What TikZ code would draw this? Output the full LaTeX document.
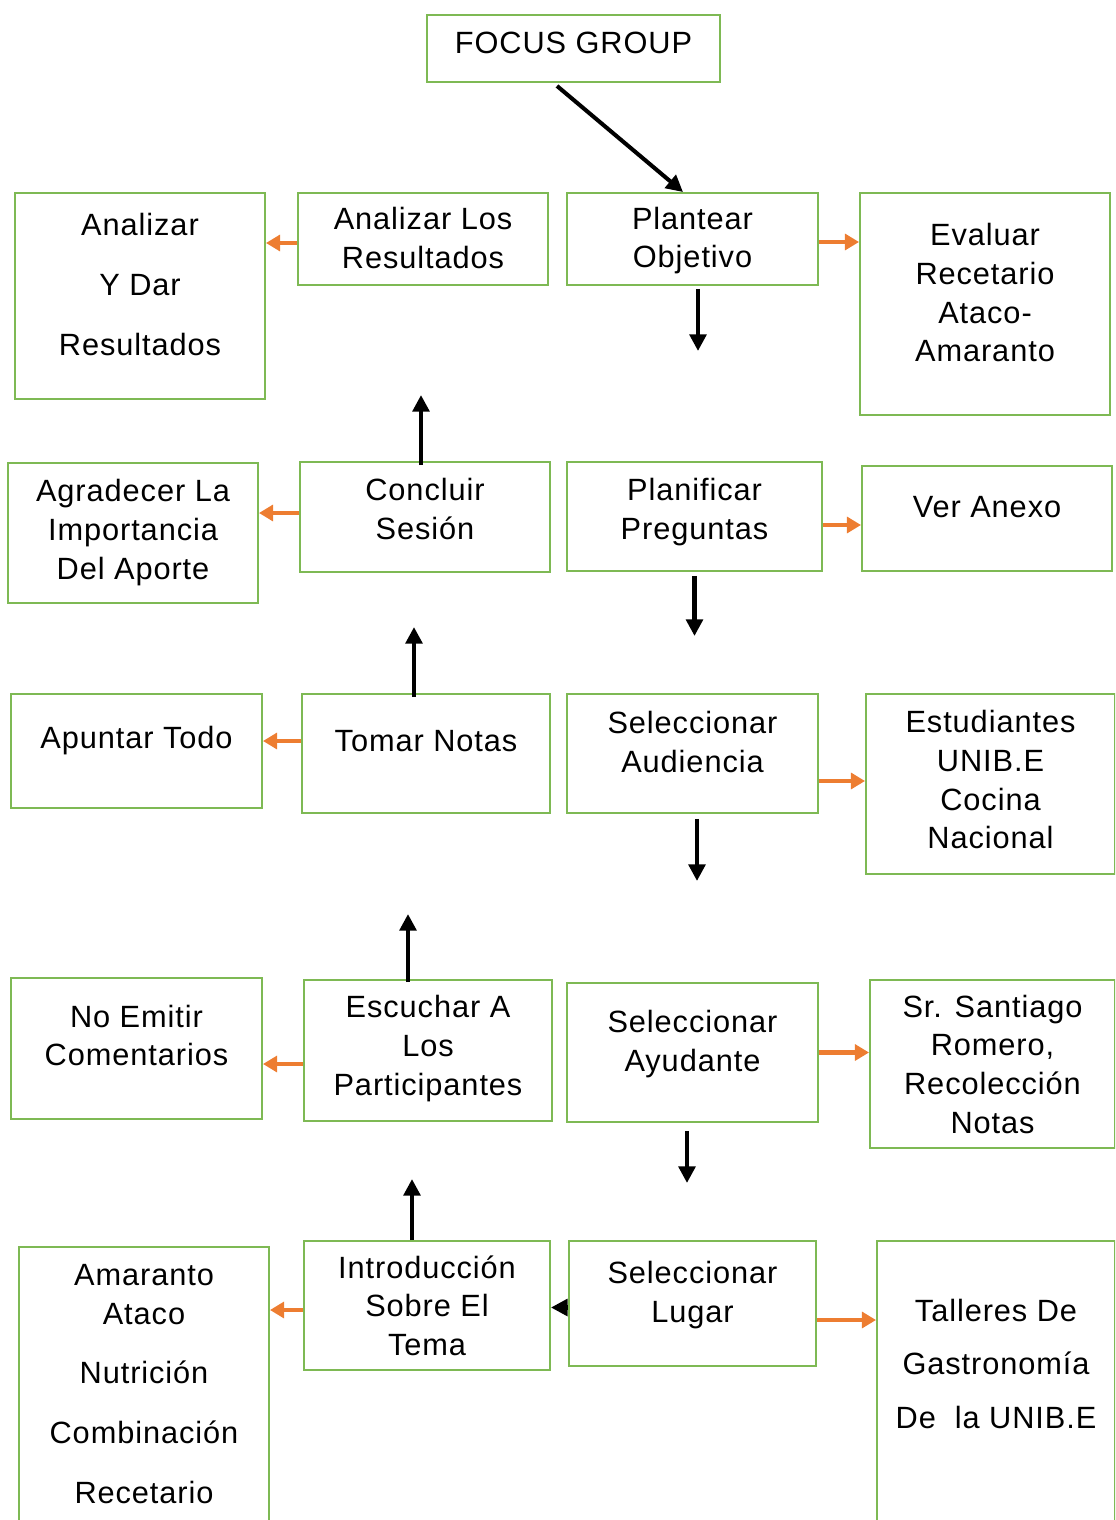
\documentclass[tikz,border=0pt]{standalone}
\usepackage{fontspec}
\setmainfont[LetterSpace=3]{Liberation Sans}
\usepackage{xcolor}
\usetikzlibrary{arrows.meta,calc}
\definecolor{boxgreen}{RGB}{126,185,84}
\definecolor{arrorange}{RGB}{237,125,49}

\begin{document}
\begin{tikzpicture}[
    box/.style={draw=boxgreen, line width=1.1pt, align=center, inner sep=0pt,
        font=\fontsize{17.5}{22}\selectfont, text depth=13pt},
    blk/.style={line width=2.3pt, -{Triangle[length=9.5pt,width=9.5pt]}},
    org/.style={arrorange, line width=2.3pt, -{Triangle[length=8pt,width=9pt]}}
]
    \useasboundingbox (0,0) rectangle (22.3,-30.4);
    \clip (0,0) rectangle (22.3,-30.4);

    % Start
    \node[box, minimum width=5.86cm, minimum height=1.34cm, text depth=6pt] (focus) at (11.47,-0.97) {FOCUS GROUP};

    % Row 1
    \node[box, minimum width=5cm, minimum height=4.12cm] (anaDar) at (2.8,-5.92) {Analizar\\[12pt] Y Dar\\[12pt] Resultados};
    \node[box, minimum width=5cm, minimum height=1.84cm, text depth=1pt] (anaLos) at (8.46,-4.78) {Analizar Los\\Resultados};
    \node[box, minimum width=5.02cm, minimum height=1.84cm, text depth=2pt] (plantear) at (13.85,-4.78) {Plantear\\Objetivo};
    \node[box, minimum width=5cm, minimum height=4.44cm] (evaluar) at (19.7,-6.08) {Evaluar\\Recetario\\Ataco-\\Amaranto};

    % Row 2
    \node[box, minimum width=5cm, minimum height=2.8cm, text depth=4pt] (agradecer) at (2.66,-10.66) {Agradecer La\\Importancia\\Del Aporte};
    \node[box, minimum width=5cm, minimum height=2.2cm, text depth=9pt] (concluir) at (8.5,-10.34) {Concluir\\Sesión};
    \node[box, minimum width=5.1cm, minimum height=2.18cm, text depth=9pt] (planificar) at (13.89,-10.33) {Planificar\\Preguntas};
    \node[box, minimum width=5cm, minimum height=2.1cm] (verAnexo) at (19.74,-10.37) {Ver Anexo};

    % Row 3
    \node[box, minimum width=5.02cm, minimum height=2.28cm, text depth=15pt] (apuntar) at (2.73,-15.02) {Apuntar Todo};
    \node[box, minimum width=4.96cm, minimum height=2.38cm, text depth=14pt] (tomar) at (8.52,-15.07) {Tomar Notas};
    \node[box, minimum width=5.02cm, minimum height=2.38cm] (audiencia) at (13.85,-15.07) {Seleccionar\\Audiencia};
    \node[box, minimum width=4.98cm, minimum height=3.6cm, text depth=5pt] (estudiantes) at (19.81,-15.68) {Estudiantes\\UNIB.E\\Cocina\\Nacional};

    % Row 4
    \node[box, minimum width=5.02cm, minimum height=2.82cm, text depth=15pt] (noEmitir) at (2.73,-20.97) {No Emitir\\Comentarios};
    \node[box, minimum width=4.96cm, minimum height=2.82cm, text depth=6pt] (escuchar) at (8.56,-21.01) {Escuchar A\\Los\\Participantes};
    \node[box, minimum width=5.02cm, minimum height=2.78cm] (ayudante) at (13.85,-21.05) {Seleccionar\\Ayudante};
    \node[box, minimum width=4.9cm, minimum height=3.36cm, text depth=0pt] (santiago) at (19.85,-21.28) {Sr. Santiago\\Romero,\\Recolección\\Notas};

    % Row 5 (boxes run past the bottom edge)
    \node[box, minimum width=5cm, minimum height=6cm, text depth=15pt] (amaranto) at (2.88,-27.94) {Amaranto\\Ataco\\[12pt]Nutrición\\[12pt]Combinación\\[12pt]Recetario};
    \node[box, minimum width=4.92cm, minimum height=2.58cm, text depth=0pt] (intro) at (8.54,-26.11) {Introducción\\Sobre El\\Tema};
    \node[box, minimum width=4.94cm, minimum height=2.5cm] (lugar) at (13.85,-26.07) {Seleccionar\\Lugar};
    \node[box, minimum width=4.76cm, minimum height=6cm, text depth=31pt] (talleres) at (19.92,-27.82) {Talleres De\\[8.6pt]Gastronomía\\[8.6pt]De~ la UNIB.E};

    % Main flow (black)
    \draw[blk] ([xshift=-0.33cm,yshift=-0.06cm]focus.south) -- ([xshift=-0.19cm]plantear.north);
    \coordinate (d1) at ([xshift=0.11cm,yshift=-1.3cm]plantear.south);
    \draw[blk] ([xshift=0.11cm,yshift=-0.06cm]plantear.south) -- (d1);
    \coordinate (d2) at ([yshift=-1.28cm]planificar.south);
    \draw[blk] ([yshift=-0.08cm]planificar.south) -- (d2);
    \coordinate (d3) at ([xshift=0.09cm,yshift=-1.34cm]audiencia.south);
    \draw[blk] ([xshift=0.09cm,yshift=-0.1cm]audiencia.south) -- (d3);
    \coordinate (d4) at ([xshift=-0.11cm,yshift=-1.2cm]ayudante.south);
    \draw[blk] ([xshift=-0.11cm,yshift=-0.16cm]ayudante.south) -- (d4);
    \draw[blk] ([yshift=-0.08cm]lugar.west) -- ([yshift=-0.08cm]lugar.west -| intro.east);
    \coordinate (u1) at ([xshift=-0.3cm,yshift=1.22cm]intro.north);
    \draw[blk] ([xshift=-0.3cm]intro.north) -- (u1);
    \coordinate (u2) at ([xshift=-0.4cm,yshift=1.3cm]escuchar.north);
    \draw[blk] ([xshift=-0.4cm,yshift=-0.06cm]escuchar.north) -- (u2);
    \coordinate (u3) at ([xshift=-0.24cm,yshift=1.32cm]tomar.north);
    \draw[blk] ([xshift=-0.24cm,yshift=-0.08cm]tomar.north) -- (u3);
    \coordinate (u4) at ([xshift=-0.08cm,yshift=1.32cm]concluir.north);
    \draw[blk] ([xshift=-0.08cm,yshift=-0.08cm]concluir.north) -- (u4);

    % Side notes (orange)
    \draw[org] ([yshift=-0.08cm]anaLos.west) -- ([yshift=-0.08cm]anaLos.west -| anaDar.east);
    \draw[org] ([yshift=-0.06cm]plantear.east) -- ([yshift=-0.06cm]plantear.east -| evaluar.west);
    \draw[org] ([yshift=0.08cm]concluir.west) -- ([yshift=0.08cm]concluir.west -| agradecer.east);
    \draw[org] ([yshift=-0.17cm]planificar.east) -- ([yshift=-0.17cm]planificar.east -| verAnexo.west);
    \draw[org] ([yshift=0.25cm]tomar.west) -- ([yshift=0.25cm]tomar.west -| apuntar.east);
    \draw[org] ([yshift=-0.55cm]audiencia.east) -- ([yshift=-0.55cm]audiencia.east -| estudiantes.west);
    \draw[org] ([yshift=-0.27cm]escuchar.west) -- ([yshift=-0.27cm]escuchar.west -| noEmitir.east);
    \draw[org] (ayudante.east) -- (ayudante.east -| santiago.west);
    \draw[org] ([yshift=-0.09cm]intro.west) -- ([yshift=-0.09cm]intro.west -| amaranto.east);
    \draw[org] ([yshift=-0.33cm]lugar.east) -- ([yshift=-0.33cm]lugar.east -| talleres.west);
\end{tikzpicture}
\end{document}
